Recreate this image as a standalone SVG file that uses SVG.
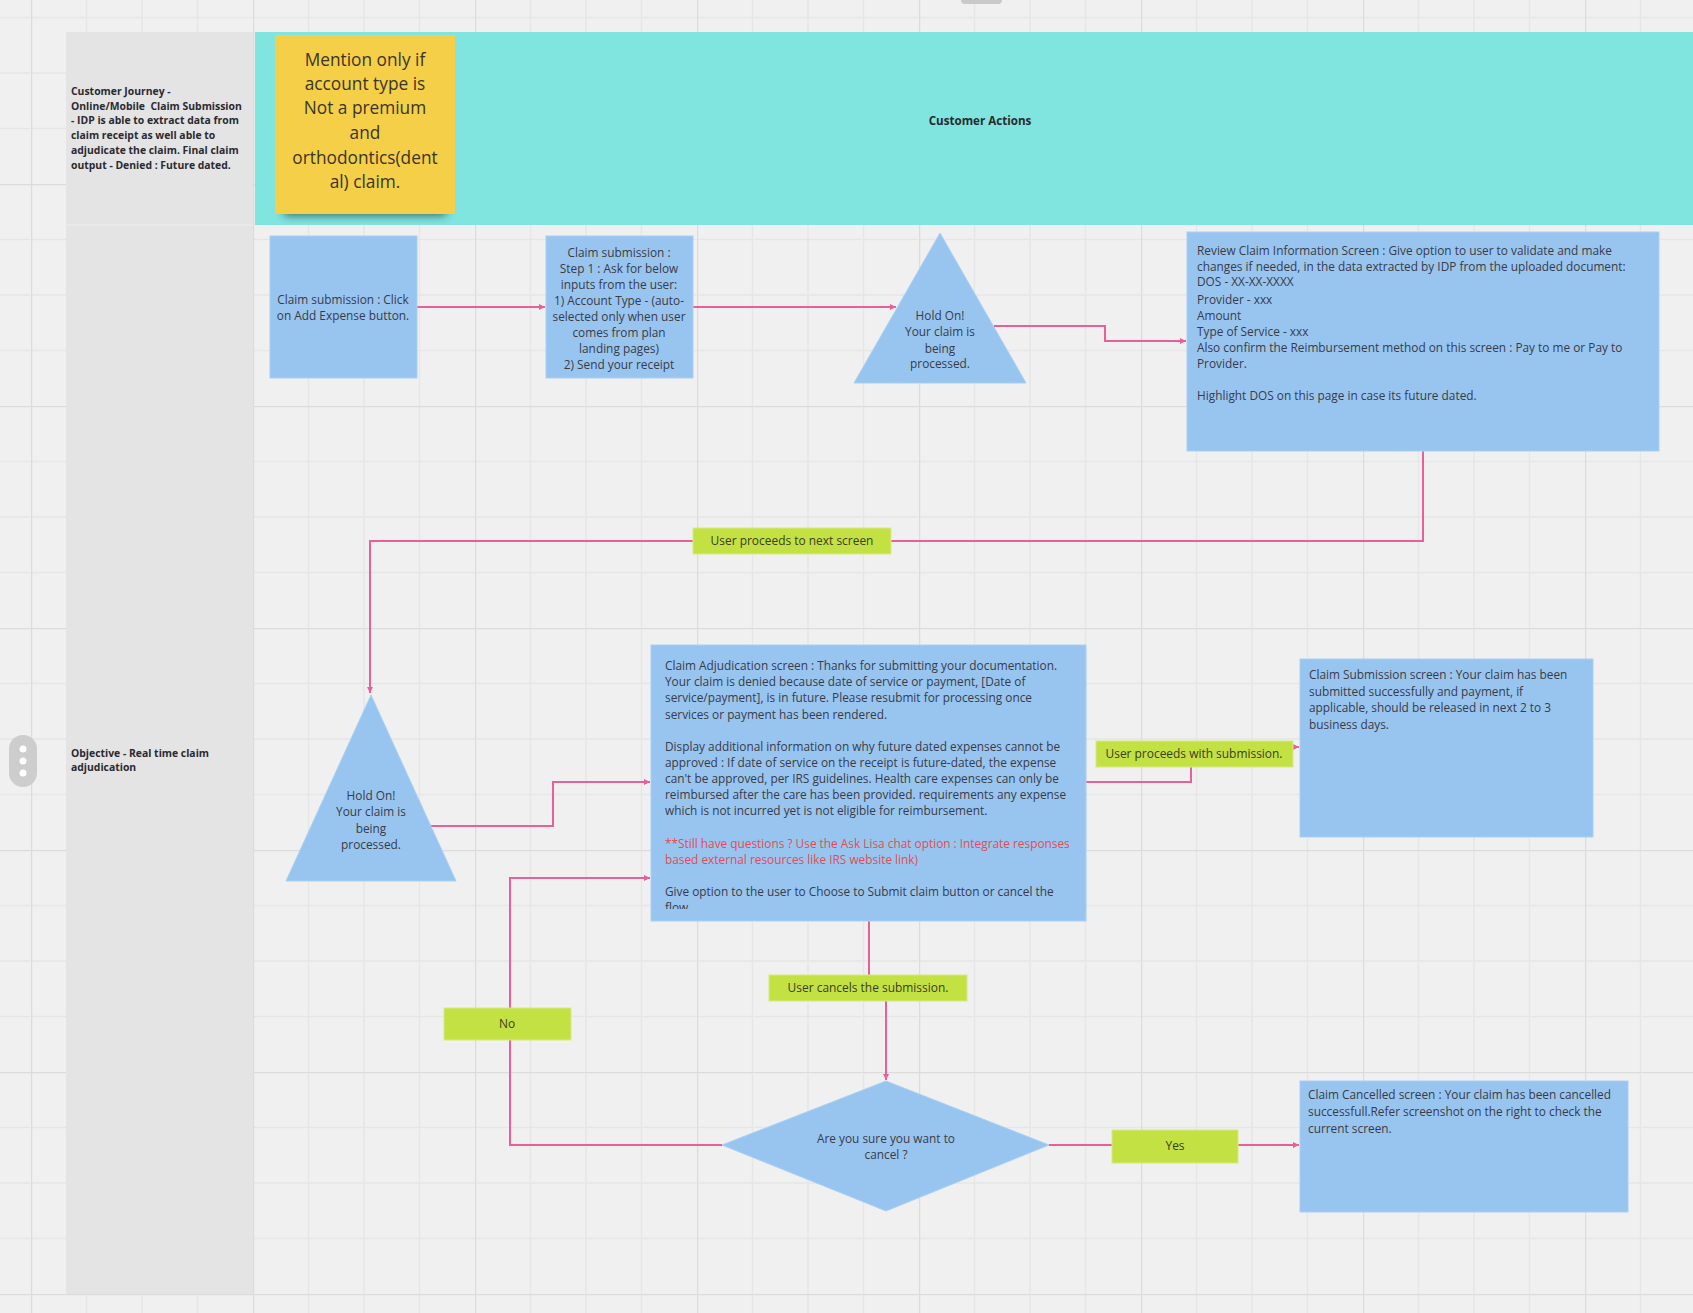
<svg xmlns="http://www.w3.org/2000/svg" width="1693" height="1313" viewBox="0 0 1693 1313">
<style>
.bg{fill:#f0f0f0}
.col{fill:#e4e4e4}
.box{fill:#98c5f0;stroke:#a9d0f3;stroke-width:1}
.lbl{fill:#c4e144;stroke:#d4ea80;stroke-width:1}
.t{font-family:"Open Sans","Noto Sans","Liberation Sans",sans-serif;font-size:11.85px;fill:#3a3b46}
.tc{text-anchor:middle}
.tb{font-family:"Open Sans","Noto Sans","Liberation Sans",sans-serif;font-size:10.4px;font-weight:bold;fill:#2a2a30}
.red{fill:#e54b50}
.gt{font-family:"Open Sans","Noto Sans","Liberation Sans",sans-serif;font-size:11.95px;fill:#3b3d1e;text-anchor:middle}
.sticky{font-family:"Open Sans","Noto Sans","Liberation Sans",sans-serif;font-size:17.3px;fill:#3a3528;text-anchor:middle}
.cn{fill:none;stroke:#e8609a;stroke-width:2;stroke-linejoin:miter}
</style>
<defs>
<pattern id="grid" patternUnits="userSpaceOnUse" x="31" y="184" width="222" height="222">
<path d="M55.5 0V222M111 0V222M166.5 0V222M0 55.5H222M0 111H222M0 166.5H222" stroke="#e6e6e6" stroke-width="1.5" fill="none"/>
<path d="M0 0V222M0 0H222" stroke="#dcdcdc" stroke-width="2.5" fill="none"/>
</pattern>
<marker id="arr" markerUnits="userSpaceOnUse" markerWidth="8" markerHeight="8" refX="6" refY="4" orient="auto">
<path d="M0,1 L6,4 L0,7 Z" fill="#e8609a"/>
</marker>
<filter id="blur" x="-20%" y="-50%" width="140%" height="200%">
<feGaussianBlur stdDeviation="4"/>
</filter>
<clipPath id="adjclip"><rect x="651" y="645" width="435" height="264"/></clipPath>
</defs>

<rect class="bg" x="0" y="0" width="1693" height="1313"/>
<rect x="0" y="0" width="1693" height="1313" fill="url(#grid)"/>
<rect x="961" y="-4" width="41" height="8" rx="4" fill="#c9c9c9"/>

<g id="lane-column">
<rect class="col" x="66" y="32" width="187" height="1262"/>
<line x1="66" y1="225" x2="253" y2="225" stroke="#ebebeb" stroke-width="1.5"/>
<text class="tb" x="71" y="95" xml:space="preserve"><tspan x="71" y="95">Customer Journey -</tspan><tspan x="71" y="110">Online/Mobile  Claim Submission</tspan><tspan x="71" y="124">- IDP is able to extract data from</tspan><tspan x="71" y="139">claim receipt as well able to</tspan><tspan x="71" y="154">adjudicate the claim. Final claim</tspan><tspan x="71" y="169">output - Denied : Future dated.</tspan></text>
<text class="tb" x="71" y="757"><tspan x="71" y="757">Objective - Real time claim</tspan><tspan x="71" y="771">adjudication</tspan></text>
</g>

<g id="handle">
<rect x="9" y="735" width="28" height="52" rx="14" fill="#cdcdcd"/>
<circle cx="23" cy="749" r="3.5" fill="#ffffff"/>
<circle cx="23" cy="761" r="3.5" fill="#ffffff"/>
<circle cx="23" cy="773" r="3.5" fill="#ffffff"/>
</g>

<g id="header">
<rect x="255" y="32" width="1438" height="193" fill="#80e4df"/>
<text x="980" y="125" style="font-family:'Open Sans','Noto Sans','Liberation Sans',sans-serif;font-size:11.6px;font-weight:bold;fill:#2a2a30;text-anchor:middle">Customer Actions</text>
</g>

<g id="sticky-note">
<rect x="284" y="200" width="162" height="16" fill="#000" opacity="0.5" filter="url(#blur)"/>
<rect x="275" y="35" width="180" height="179" fill="#f5cf47"/>
<text class="sticky"><tspan x="365" y="66">Mention only if</tspan><tspan x="365" y="90">account type is</tspan><tspan x="365" y="114">Not a premium</tspan><tspan x="365" y="139">and</tspan><tspan x="365" y="164">orthodontics(dent</tspan><tspan x="365" y="188">al) claim.</tspan></text>
</g>

<g id="connectors">
<path class="cn" d="M417,307 H545" marker-end="url(#arr)"/>
<path class="cn" d="M693,307 H896" marker-end="url(#arr)"/>
<path class="cn" d="M994,326 H1105 V341 H1186" marker-end="url(#arr)"/>
<path class="cn" d="M1423,451 V541 H370 V693" marker-end="url(#arr)"/>
<path class="cn" d="M431,826 H553 V782 H650" marker-end="url(#arr)"/>
<path class="cn" d="M1086,782 H1191 V747 H1299" marker-end="url(#arr)"/>
<path class="cn" d="M869,921 V988 H886 V1080" marker-end="url(#arr)"/>
<path class="cn" d="M722,1145 H510 V878 H650" marker-end="url(#arr)"/>
<path class="cn" d="M1049,1145 H1299" marker-end="url(#arr)"/>
</g>

<g id="node-add-expense">
<rect class="box" x="270" y="236" width="147" height="142"/>
<text class="t tc"><tspan x="343" y="304">Claim submission : Click</tspan><tspan x="343" y="320">on Add Expense button.</tspan></text>
</g>

<g id="node-step1">
<rect class="box" x="546" y="236" width="147" height="142"/>
<text class="t tc"><tspan x="619" y="257">Claim submission :</tspan><tspan x="619" y="273">Step 1 : Ask for below</tspan><tspan x="619" y="289">inputs from the user:</tspan><tspan x="619" y="305">1) Account Type - (auto-</tspan><tspan x="619" y="321">selected only when user</tspan><tspan x="619" y="337">comes from plan</tspan><tspan x="619" y="353">landing pages)</tspan><tspan x="619" y="369">2) Send your receipt</tspan></text>
</g>

<g id="node-hold-1">
<polygon class="box" points="940,233 1026,383 854,383"/>
<text class="t tc"><tspan x="940" y="320">Hold On!</tspan><tspan x="940" y="336">Your claim is</tspan><tspan x="940" y="353">being</tspan><tspan x="940" y="368">processed.</tspan></text>
</g>

<g id="node-review">
<rect class="box" x="1187" y="232" width="472" height="219"/>
<text class="t"><tspan x="1197" y="255">Review Claim Information Screen : Give option to user to validate and make</tspan><tspan x="1197" y="271">changes if needed, in the data extracted by IDP from the uploaded document:</tspan><tspan x="1197" y="286">DOS - XX-XX-XXXX</tspan><tspan x="1197" y="304">Provider - xxx</tspan><tspan x="1197" y="320">Amount</tspan><tspan x="1197" y="336">Type of Service - xxx</tspan><tspan x="1197" y="352">Also confirm the Reimbursement method on this screen : Pay to me or Pay to</tspan><tspan x="1197" y="368">Provider.</tspan><tspan x="1197" y="400">Highlight DOS on this page in case its future dated.</tspan></text>
</g>

<g id="label-next-screen">
<rect class="lbl" x="693" y="528" width="198" height="26"/>
<text class="gt" x="792" y="545">User proceeds to next screen</text>
</g>

<g id="node-hold-2">
<polygon class="box" points="371,695 456,881 286,881"/>
<text class="t tc"><tspan x="371" y="800">Hold On!</tspan><tspan x="371" y="816">Your claim is</tspan><tspan x="371" y="833">being</tspan><tspan x="371" y="849">processed.</tspan></text>
</g>

<g id="node-adjudication">
<rect class="box" x="651" y="645" width="435" height="276"/>
<g clip-path="url(#adjclip)">
<text class="t"><tspan x="665" y="670">Claim Adjudication screen : Thanks for submitting your documentation.</tspan><tspan x="665" y="686">Your claim is denied because date of service or payment, [Date of</tspan><tspan x="665" y="702">service/payment], is in future. Please resubmit for processing once</tspan><tspan x="665" y="719">services or payment has been rendered.</tspan><tspan x="665" y="751">Display additional information on why future dated expenses cannot be</tspan><tspan x="665" y="767">approved : If date of service on the receipt is future-dated, the expense</tspan><tspan x="665" y="783">can't be approved, per IRS guidelines. Health care expenses can only be</tspan><tspan x="665" y="799">reimbursed after the care has been provided. requirements any expense</tspan><tspan x="665" y="815">which is not incurred yet is not eligible for reimbursement.</tspan><tspan x="665" y="848" class="red">**Still have questions ? Use the Ask Lisa chat option : Integrate responses</tspan><tspan x="665" y="864" class="red">based external resources like IRS website link)</tspan><tspan x="665" y="896">Give option to the user to Choose to Submit claim button or cancel the</tspan><tspan x="665" y="912">flow.</tspan></text>
</g>
</g>

<g id="label-proceed-submission">
<rect class="lbl" x="1096" y="741" width="197" height="26"/>
<text class="gt" x="1194" y="758">User proceeds with submission.</text>
</g>

<g id="node-submitted">
<rect class="box" x="1300" y="659" width="293" height="178"/>
<text class="t"><tspan x="1309" y="679">Claim Submission screen : Your claim has been</tspan><tspan x="1309" y="695.5">submitted successfully and payment, if</tspan><tspan x="1309" y="712">applicable, should be released in next 2 to 3</tspan><tspan x="1309" y="728.5">business days.</tspan></text>
</g>

<g id="label-cancels">
<rect class="lbl" x="769" y="975" width="198" height="26"/>
<text class="gt" x="868" y="992">User cancels the submission.</text>
</g>

<g id="label-no">
<rect class="lbl" x="444" y="1008" width="127" height="32"/>
<text class="gt" x="507" y="1028">No</text>
</g>

<g id="node-confirm-cancel">
<polygon class="box" points="886,1081 1049,1145 886,1211 722,1145"/>
<text class="t tc"><tspan x="886" y="1143">Are you sure you want to</tspan><tspan x="886" y="1159">cancel ?</tspan></text>
</g>

<g id="label-yes">
<rect class="lbl" x="1112" y="1130" width="126" height="33"/>
<text class="gt" x="1175" y="1150">Yes</text>
</g>

<g id="node-cancelled">
<rect class="box" x="1300" y="1081" width="328" height="131"/>
<text class="t"><tspan x="1308" y="1099">Claim Cancelled screen : Your claim has been cancelled</tspan><tspan x="1308" y="1116">successfull.Refer screenshot on the right to check the</tspan><tspan x="1308" y="1133">current screen.</tspan></text>
</g>
</svg>
